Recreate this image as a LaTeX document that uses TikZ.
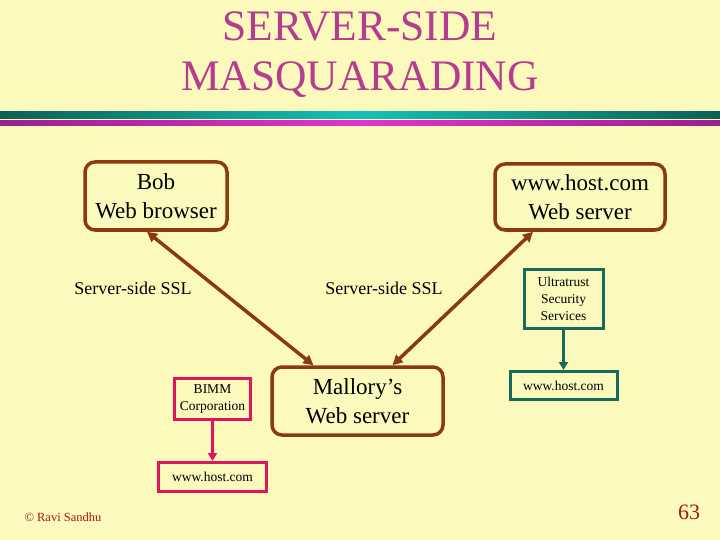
\documentclass[tikz,border=0pt]{standalone}
\usepackage{fontspec}
\setmainfont{Liberation Serif}
\usetikzlibrary{positioning, arrows.meta}

\definecolor{slidebg}{HTML}{FBF9BB}
\definecolor{titlepink}{HTML}{B53C8E}
\definecolor{linkbrown}{HTML}{8A3A0E}
\definecolor{corppink}{HTML}{E0145C}
\definecolor{trustteal}{HTML}{176B5C}
\definecolor{bardark}{HTML}{0E5F56}
\definecolor{barlight}{HTML}{13C2B9}
\definecolor{magdark}{HTML}{9A1F8C}
\definecolor{maglight}{HTML}{E233CC}
\definecolor{footred}{HTML}{A3181A}

\begin{document}
\begin{tikzpicture}[
		x=1pt, y=-1pt,
		node distance=40pt,
		hostbox/.style={draw=linkbrown, line width=3.5pt, rounded corners=10pt, align=center, inner sep=0pt, font=\fontsize{23}{29}\selectfont},
		corpbox/.style={draw=corppink, line width=3pt, align=center, inner sep=0pt, font=\fontsize{13.5}{17}\selectfont},
		trustbox/.style={draw=trustteal, line width=3pt, align=center, inner sep=0pt, font=\fontsize{13.5}{17}\selectfont},
		ssl/.style={{Triangle[length=10pt,width=10pt]}-{Triangle[length=10pt,width=10pt]}, color=linkbrown, line width=3.5pt},
		corplink/.style={-{Triangle[length=8pt,width=9pt]}, color=corppink, line width=3pt},
		trustlink/.style={-{Triangle[length=8pt,width=9pt]}, color=trustteal, line width=3pt},
		ssllabel/.style={font=\fontsize{18}{22}\selectfont}
		]
		
		% Slide background and header bars
		\fill[slidebg] (0,0) rectangle (720,540);
		\shade[left color=bardark, right color=bardark, middle color=barlight] (0,112) rectangle (720,119);
		\shade[left color=magdark, right color=magdark, middle color=maglight] (0,121) rectangle (720,125.5);
		
		\node[text=titlepink, align=center, font=\fontsize{43.5}{50}\selectfont] (title) at (360,55) {SERVER-SIDE\\MASQUARADING};
		
		% Nodes
		\node[hostbox, minimum width=142pt, minimum height=68pt] (bob) at (156,196) {Bob\\Web browser};
		
		\node[hostbox, minimum width=170pt, minimum height=66pt] (websrv) at (580,197) {www.host.com\\Web server};
		
		\node[hostbox, minimum width=171pt, minimum height=68pt] (mallory) at (357.5,401) {Mallory’s\\Web server};
		
		\node[corpbox, minimum width=76pt, minimum height=41pt] (bimm) at (212.5,399) {BIMM\\Corporation};
		
		\node[corpbox, minimum width=108pt, minimum height=29pt, below=of bimm] (corphost) {www.host.com};
		
		\node[trustbox, minimum width=79pt, minimum height=59pt] (trust) at (563.5,299) {Ultratrust\\Security\\Services};
		
		\node[trustbox, minimum width=107pt, minimum height=28pt, below=of trust] (trusthost) {www.host.com};
		
		\node[ssllabel] (sslleft) at (133,288) {Server-side SSL};
		\node[ssllabel] (sslright) at (384,288) {Server-side SSL};
		
		% Arrows
		\draw[ssl] ([xshift=-9pt]bob.south) -- ([xshift=-44pt]mallory.north);
		
		\draw[ssl] ([xshift=-47pt]websrv.south) -- ([xshift=35pt]mallory.north);
		
		\draw[corplink] (bimm) -- (corphost);
		
		\draw[trustlink] (trust) -- (trusthost);
		
		% Footer
		\node[anchor=west, text=footred, font=\fontsize{12.5}{15}\selectfont] (credit) at (21,517) {\textcopyright{} Ravi Sandhu};
		\node[text=footred, font=\fontsize{22}{26}\selectfont] (pageno) at (689,512) {63};
		
	\end{tikzpicture}
\end{document}
